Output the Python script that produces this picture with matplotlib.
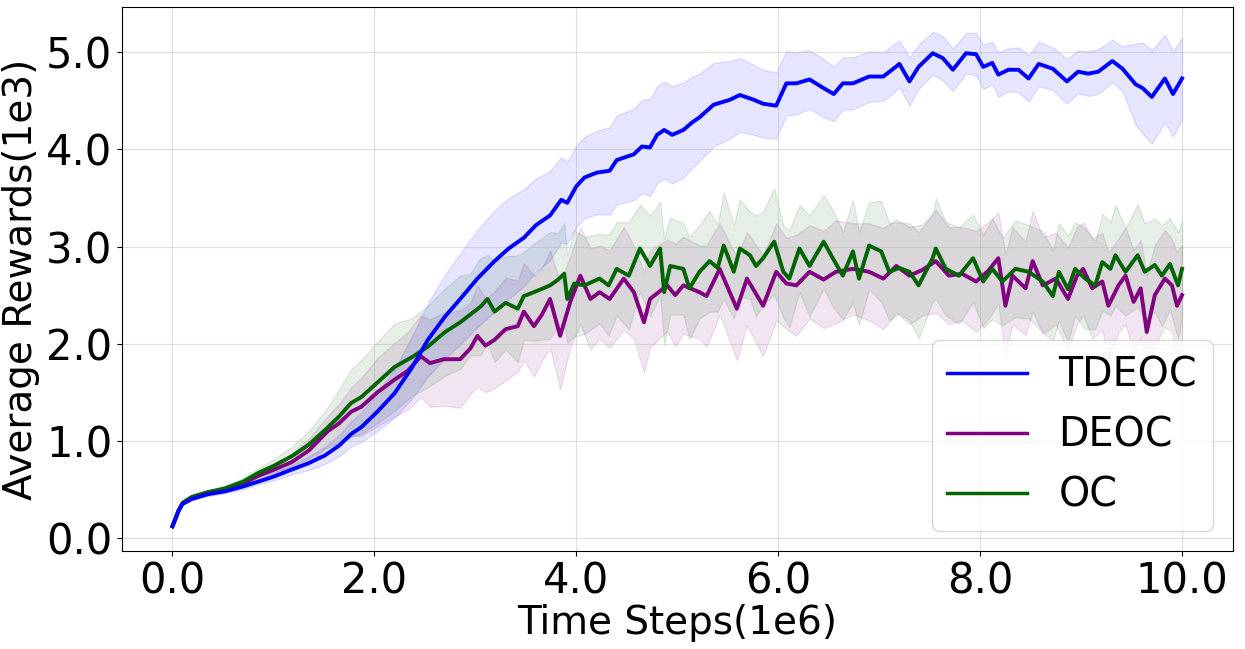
import matplotlib
matplotlib.use("Agg")
import matplotlib.pyplot as plt, numpy as np

# values (x in 1e6 steps, y in 1e3 reward)
tdeoc_x = [0.00, 0.03, 0.06, 0.10, 0.19, 0.35, 0.52, 0.70, 0.85, 1.00,
           1.17, 1.35, 1.51, 1.65, 1.77, 1.87, 2.03, 2.20, 2.37, 2.53,
           2.70, 2.85, 3.02, 3.19, 3.33, 3.48, 3.60, 3.74, 3.85, 3.91,
           4.00, 4.08, 4.20, 4.33, 4.40, 4.57, 4.65, 4.73, 4.80, 4.87,
           4.95, 5.06, 5.15, 5.22, 5.36, 5.52, 5.62, 5.76, 5.85, 5.98,
           6.08, 6.18, 6.31, 6.45, 6.55, 6.64, 6.74, 6.90, 7.04, 7.14,
           7.20, 7.30, 7.39, 7.53, 7.63, 7.73, 7.86, 7.96, 8.03, 8.12,
           8.18, 8.28, 8.38, 8.48, 8.58, 8.72, 8.86, 8.97, 9.07, 9.17,
           9.31, 9.41, 9.54, 9.61, 9.70, 9.83, 9.91, 10.0]
tdeoc_mean = [0.12, 0.20, 0.28, 0.35, 0.40, 0.45, 0.48, 0.53, 0.58, 0.63,
              0.70, 0.77, 0.85, 0.95, 1.07, 1.14, 1.30, 1.49, 1.75, 2.04,
              2.28, 2.46, 2.67, 2.85, 2.98, 3.09, 3.22, 3.32, 3.48, 3.45,
              3.62, 3.71, 3.76, 3.78, 3.89, 3.95, 4.03, 4.02, 4.15, 4.20,
              4.15, 4.20, 4.28, 4.33, 4.46, 4.51, 4.56, 4.51, 4.47, 4.45,
              4.68, 4.68, 4.72, 4.63, 4.57, 4.68, 4.68, 4.75, 4.75, 4.83,
              4.88, 4.70, 4.85, 4.99, 4.94, 4.82, 4.99, 4.98, 4.85, 4.89,
              4.77, 4.82, 4.82, 4.73, 4.88, 4.83, 4.70, 4.80, 4.78, 4.80,
              4.91, 4.83, 4.67, 4.63, 4.54, 4.73, 4.57, 4.73]
tdeoc_std = [0.00, 0.01, 0.01, 0.01, 0.01, 0.02, 0.02, 0.03, 0.03, 0.04,
             0.05, 0.07, 0.09, 0.11, 0.13, 0.15, 0.20, 0.25, 0.32, 0.38,
             0.43, 0.47, 0.50, 0.52, 0.52, 0.50, 0.48, 0.46, 0.44, 0.42,
             0.42, 0.42, 0.43, 0.45, 0.46, 0.47, 0.48, 0.50, 0.50, 0.50,
             0.50, 0.49, 0.47, 0.45, 0.43, 0.40, 0.38, 0.36, 0.35, 0.34,
             0.33, 0.32, 0.30, 0.30, 0.28, 0.27, 0.27, 0.26, 0.25, 0.25,
             0.24, 0.25, 0.23, 0.22, 0.23, 0.22, 0.21, 0.22, 0.23, 0.22,
             0.23, 0.22, 0.23, 0.24, 0.23, 0.22, 0.23, 0.22, 0.23, 0.23,
             0.22, 0.23, 0.42, 0.47, 0.48, 0.45, 0.44, 0.42]

oc_x = [0.00, 0.03, 0.06, 0.10, 0.19, 0.35, 0.52, 0.70, 0.85, 1.00,
        1.18, 1.35, 1.52, 1.65, 1.77, 1.87, 2.03, 2.20, 2.37, 2.53,
        2.70, 2.85, 2.95, 3.05, 3.12, 3.19, 3.30, 3.42, 3.48, 3.58,
        3.74, 3.82, 3.88, 3.91, 3.98, 4.08, 4.23, 4.32, 4.40, 4.52,
        4.63, 4.73, 4.83, 4.87, 4.93, 5.06, 5.12, 5.22, 5.32, 5.40,
        5.46, 5.56, 5.62, 5.72, 5.78, 5.85, 5.96, 6.05, 6.11, 6.21,
        6.31, 6.45, 6.54, 6.64, 6.74, 6.80, 6.90, 7.02, 7.10, 7.20,
        7.30, 7.39, 7.53, 7.56, 7.66, 7.79, 7.93, 8.03, 8.12, 8.22,
        8.35, 8.48, 8.62, 8.72, 8.78, 8.87, 8.94, 9.04, 9.14, 9.21,
        9.29, 9.34, 9.44, 9.56, 9.63, 9.73, 9.80, 9.88, 9.96, 10.0]
oc_mean = [0.12, 0.20, 0.28, 0.36, 0.42, 0.47, 0.51, 0.58, 0.67, 0.74,
           0.84, 0.96, 1.12, 1.25, 1.39, 1.45, 1.60, 1.76, 1.86, 1.97,
           2.12, 2.22, 2.30, 2.38, 2.46, 2.33, 2.42, 2.36, 2.49, 2.53,
           2.60, 2.66, 2.72, 2.46, 2.62, 2.60, 2.67, 2.60, 2.77, 2.70,
           2.98, 2.80, 2.98, 2.53, 2.80, 2.77, 2.57, 2.74, 2.85, 2.78,
           3.01, 2.74, 2.98, 2.91, 2.80, 2.88, 3.05, 2.74, 2.67, 2.98,
           2.80, 3.05, 2.88, 2.70, 2.95, 2.67, 3.01, 2.95, 2.74, 2.78,
           2.74, 2.60, 2.88, 2.98, 2.77, 2.70, 2.88, 2.64, 2.77, 2.64,
           2.77, 2.74, 2.64, 2.49, 2.74, 2.56, 2.77, 2.67, 2.60, 2.84,
           2.77, 2.91, 2.74, 2.91, 2.74, 2.81, 2.70, 2.82, 2.60, 2.77]
oc_std = [0.00, 0.01, 0.01, 0.01, 0.02, 0.02, 0.03, 0.04, 0.05, 0.07,
          0.10, 0.14, 0.20, 0.28, 0.35, 0.38, 0.42, 0.45, 0.40, 0.42,
          0.45, 0.48, 0.42, 0.50, 0.45, 0.52, 0.48, 0.55, 0.45, 0.50,
          0.55, 0.48, 0.52, 0.45, 0.55, 0.50, 0.46, 0.52, 0.48, 0.55,
          0.45, 0.52, 0.48, 0.55, 0.50, 0.47, 0.53, 0.48, 0.52, 0.45,
          0.55, 0.48, 0.50, 0.45, 0.52, 0.48, 0.55, 0.47, 0.50, 0.45,
          0.52, 0.48, 0.50, 0.45, 0.53, 0.48, 0.45, 0.52, 0.50, 0.47,
          0.50, 0.55, 0.45, 0.52, 0.48, 0.50, 0.45, 0.48, 0.52, 0.45,
          0.50, 0.48, 0.52, 0.47, 0.50, 0.55, 0.48, 0.52, 0.45, 0.50,
          0.48, 0.52, 0.45, 0.53, 0.50, 0.48, 0.52, 0.47, 0.55, 0.50]

deoc_x = [0.00, 0.03, 0.06, 0.10, 0.19, 0.35, 0.52, 0.70, 0.85, 1.00,
          1.18, 1.35, 1.54, 1.65, 1.77, 1.87, 2.03, 2.20, 2.33, 2.46,
          2.55, 2.69, 2.85, 2.95, 3.02, 3.10, 3.19, 3.30, 3.42, 3.48,
          3.58, 3.66, 3.74, 3.84, 3.94, 4.04, 4.14, 4.23, 4.33, 4.47,
          4.57, 4.67, 4.73, 4.90, 4.98, 5.06, 5.22, 5.29, 5.36, 5.42,
          5.59, 5.69, 5.85, 5.98, 6.08, 6.18, 6.31, 6.45, 6.57, 6.74,
          6.90, 7.04, 7.17, 7.30, 7.43, 7.56, 7.69, 7.82, 7.96, 8.08,
          8.18, 8.25, 8.32, 8.45, 8.52, 8.62, 8.75, 8.87, 8.96, 9.02,
          9.11, 9.21, 9.27, 9.37, 9.44, 9.52, 9.59, 9.65, 9.73, 9.83,
          9.90, 9.95, 10.0]
deoc_mean = [0.12, 0.20, 0.28, 0.36, 0.42, 0.47, 0.50, 0.56, 0.64, 0.70,
             0.78, 0.90, 1.10, 1.18, 1.30, 1.35, 1.50, 1.63, 1.72, 1.87,
             1.80, 1.84, 1.84, 1.95, 2.08, 1.98, 2.04, 2.15, 2.18, 2.33,
             2.18, 2.30, 2.46, 2.08, 2.43, 2.70, 2.46, 2.53, 2.46, 2.67,
             2.53, 2.22, 2.46, 2.60, 2.50, 2.60, 2.53, 2.49, 2.64, 2.77,
             2.36, 2.67, 2.39, 2.74, 2.62, 2.60, 2.74, 2.66, 2.74, 2.77,
             2.74, 2.67, 2.80, 2.70, 2.76, 2.85, 2.70, 2.72, 2.64, 2.75,
             2.88, 2.39, 2.70, 2.57, 2.85, 2.60, 2.67, 2.46, 2.70, 2.77,
             2.57, 2.64, 2.39, 2.60, 2.70, 2.43, 2.57, 2.12, 2.50, 2.67,
             2.60, 2.39, 2.50]
deoc_std = [0.00, 0.01, 0.01, 0.01, 0.02, 0.02, 0.03, 0.04, 0.05, 0.07,
            0.09, 0.12, 0.16, 0.20, 0.25, 0.30, 0.35, 0.38, 0.40, 0.42,
            0.45, 0.48, 0.50, 0.47, 0.52, 0.48, 0.50, 0.53, 0.47, 0.50,
            0.52, 0.48, 0.50, 0.55, 0.47, 0.50, 0.52, 0.48, 0.50, 0.53,
            0.48, 0.52, 0.50, 0.47, 0.53, 0.50, 0.48, 0.52, 0.50, 0.47,
            0.53, 0.48, 0.52, 0.50, 0.47, 0.52, 0.48, 0.50, 0.53, 0.47,
            0.50, 0.52, 0.48, 0.50, 0.47, 0.53, 0.50, 0.48, 0.52, 0.50,
            0.47, 0.53, 0.50, 0.48, 0.52, 0.50, 0.47, 0.53, 0.50, 0.48,
            0.52, 0.50, 0.55, 0.48, 0.50, 0.53, 0.50, 0.58, 0.52, 0.50,
            0.48, 0.55, 0.52]

series = [("DEOC", deoc_x, deoc_mean, deoc_std, "purple"),
          ("OC", oc_x, oc_mean, oc_std, "darkgreen"),
          ("TDEOC", tdeoc_x, tdeoc_mean, tdeoc_std, "blue")]

fig = plt.figure(figsize=(12.45, 6.49), dpi=100)
ax = fig.add_axes([0.098, 0.151, 0.892, 0.838])

lines = {}
for name, x, m, s, c in series:
    x, m, s = np.array(x), np.array(m), np.array(s)
    ax.fill_between(x, m - s, m + s, color=c, alpha=0.1)
    lines[name], = ax.plot(x, m, color=c, lw=2.8, label=name)

ax.grid(True, alpha=0.4)
ax.set_xticks([0, 2, 4, 6, 8, 10])
ax.set_yticks([0, 1, 2, 3, 4, 5])
ax.xaxis.set_major_formatter(matplotlib.ticker.FormatStrFormatter("%.1f"))
ax.yaxis.set_major_formatter(matplotlib.ticker.FormatStrFormatter("%.1f"))
ax.tick_params(labelsize=30)
ax.set_xlabel("Time Steps(1e6)", fontsize=28, labelpad=1)
ax.set_ylabel("Average Rewards(1e3)", fontsize=28, labelpad=4)
leg = ax.legend(handles=[lines["TDEOC"], lines["DEOC"], lines["OC"]],
                loc="lower right", fontsize=28.5)
for h in leg.get_lines():
    h.set_linewidth(2.5)

fig.savefig("out.png", dpi=100)
